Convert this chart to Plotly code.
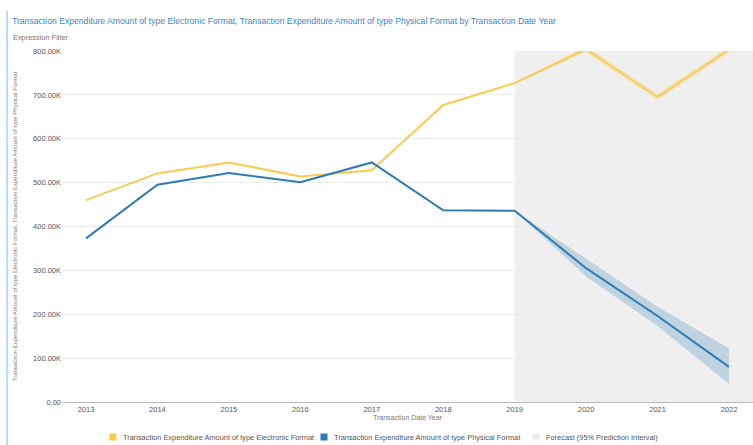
import plotly.graph_objects as go

years = [2013, 2014, 2015, 2016, 2017, 2018, 2019, 2020, 2021, 2022]
electronic = [460000, 521000, 546000, 514000, 528000, 677000, 727000, 804000, 695000, 803000]
physical = [373000, 495000, 522000, 501000, 546000, 437000, 436000, 305000, 196000, 80000]

fc_years = [2019, 2020, 2021, 2022]
elec_upper = [727000, 812000, 703000, 812000]
elec_lower = [727000, 796000, 688000, 795000]
phys_upper = [436000, 326000, 217000, 122000]
phys_lower = [436000, 286000, 173000, 41000]

forecast_start = 2019

legend_names = ["Transaction Expenditure Amount of type Electronic Format",
                "Transaction Expenditure Amount of type Physical Format",
                "Forecast (95% Prediction Interval)"]

YELLOW = "#f8cb4f"
BLUE = "#2e7bb4"
FORECAST_GRAY = "#efefef"
legend_colors = [YELLOW, BLUE, "#ebebeb"]
font_family = "Liberation Sans, Arial, sans-serif"

fig = go.Figure()

# forecast bands
fig.add_trace(go.Scatter(x=fc_years, y=elec_upper, mode="lines", line=dict(width=0),
                         showlegend=False, hoverinfo="skip"))
fig.add_trace(go.Scatter(x=fc_years, y=elec_lower, mode="lines", line=dict(width=0),
                         fill="tonexty", fillcolor="rgba(248,203,79,0.22)",
                         showlegend=False, hoverinfo="skip"))
fig.add_trace(go.Scatter(x=fc_years, y=phys_upper, mode="lines", line=dict(width=0),
                         showlegend=False, hoverinfo="skip"))
fig.add_trace(go.Scatter(x=fc_years, y=phys_lower, mode="lines", line=dict(width=0),
                         fill="tonexty", fillcolor="rgba(46,123,180,0.25)",
                         showlegend=False, hoverinfo="skip"))

fig.add_trace(go.Scatter(x=years, y=electronic, mode="lines", name=legend_names[0],
                         line=dict(color=YELLOW, width=2), showlegend=False))
fig.add_trace(go.Scatter(x=years, y=physical, mode="lines", name=legend_names[1],
                         line=dict(color=BLUE, width=2), showlegend=False))

# forecast shaded region
fig.add_shape(type="rect", xref="x", yref="paper", x0=forecast_start, x1=2022.336,
              y0=0, y1=1, fillcolor=FORECAST_GRAY, line=dict(width=0), layer="below")

W, H = 753, 445
ml, mr, mt, mb = 62, 0, 51, 43
pw, ph = W - ml - mr, H - mt - mb

def px_x(px):
    return (px - ml) / pw

def px_y(py):
    return (H - mb - py) / ph

# left accent line
fig.add_shape(type="line", xref="paper", yref="paper",
              x0=px_x(7), x1=px_x(7), y0=px_y(11), y1=px_y(445),
              line=dict(color="#a8d0ef", width=1.5))

fig.add_annotation(text="Transaction Expenditure Amount of type Electronic Format, Transaction Expenditure Amount of type Physical Format by Transaction Date Year",
                   xref="paper", yref="paper", x=px_x(10), y=px_y(21), xanchor="left", yanchor="middle",
                   showarrow=False, font=dict(size=8.65, color="#3a86c8", family=font_family))
fig.add_annotation(text="Expression Filter",
                   xref="paper", yref="paper", x=px_x(11), y=px_y(37), xanchor="left", yanchor="middle",
                   showarrow=False, font=dict(size=7.4, color="#777777", family=font_family))

# legend (drawn manually to match spacing)
legend_sq_x = [113, 324, 536]
legend_y = 437
for name, col, sx in zip(legend_names, legend_colors, legend_sq_x):
    fig.add_shape(type="rect", xref="paper", yref="paper",
                  x0=px_x(sx - 3.5), x1=px_x(sx + 3.5), y0=px_y(legend_y + 3.5), y1=px_y(legend_y - 3.5),
                  fillcolor=col, line=dict(width=0))
    fig.add_annotation(text=name, xref="paper", yref="paper", x=px_x(sx + 8), y=px_y(legend_y),
                       xanchor="left", yanchor="middle", showarrow=False,
                       font=dict(size=7.4, color="#555555", family=font_family))

fig.update_layout(
    width=W, height=H,
    margin=dict(l=ml, r=mr, t=mt, b=mb, autoexpand=False),
    paper_bgcolor="white", plot_bgcolor="white",
    showlegend=False,
    font=dict(family=font_family, size=8, color="#555555"),
    xaxis=dict(range=[2012.664, 2022.336], tickmode="array", tickvals=years,
               ticktext=[str(y) for y in years], showgrid=False, zeroline=False,
               showline=True, linecolor="#bbbbbb", linewidth=1, automargin=False,
               tickfont=dict(size=7.5, color="#555555"), ticks="",
               title=dict(text="Transaction Date Year", font=dict(size=7, color="#777777"), standoff=2)),
    yaxis=dict(range=[0, 800000], tickvals=[0, 100000, 200000, 300000, 400000, 500000, 600000, 700000, 800000],
               ticktext=["0.00", "100.00K", "200.00K", "300.00K", "400.00K", "500.00K", "600.00K", "700.00K", "800.00K"],
               showgrid=True, gridcolor="#e8ecef", gridwidth=1, zeroline=False, automargin=False,
               tickfont=dict(size=7.5, color="#555555"), ticks="",
               title=dict(text="Transaction Expenditure Amount of type Electronic Format, Transaction Expenditure Amount of type Physical Format",
                          font=dict(size=6, color="#777777"), standoff=14)),
)

fig.write_html("out.html", config={"displayModeBar": False},
               post_script="document.body.style.margin='0';document.body.style.padding='0';")
